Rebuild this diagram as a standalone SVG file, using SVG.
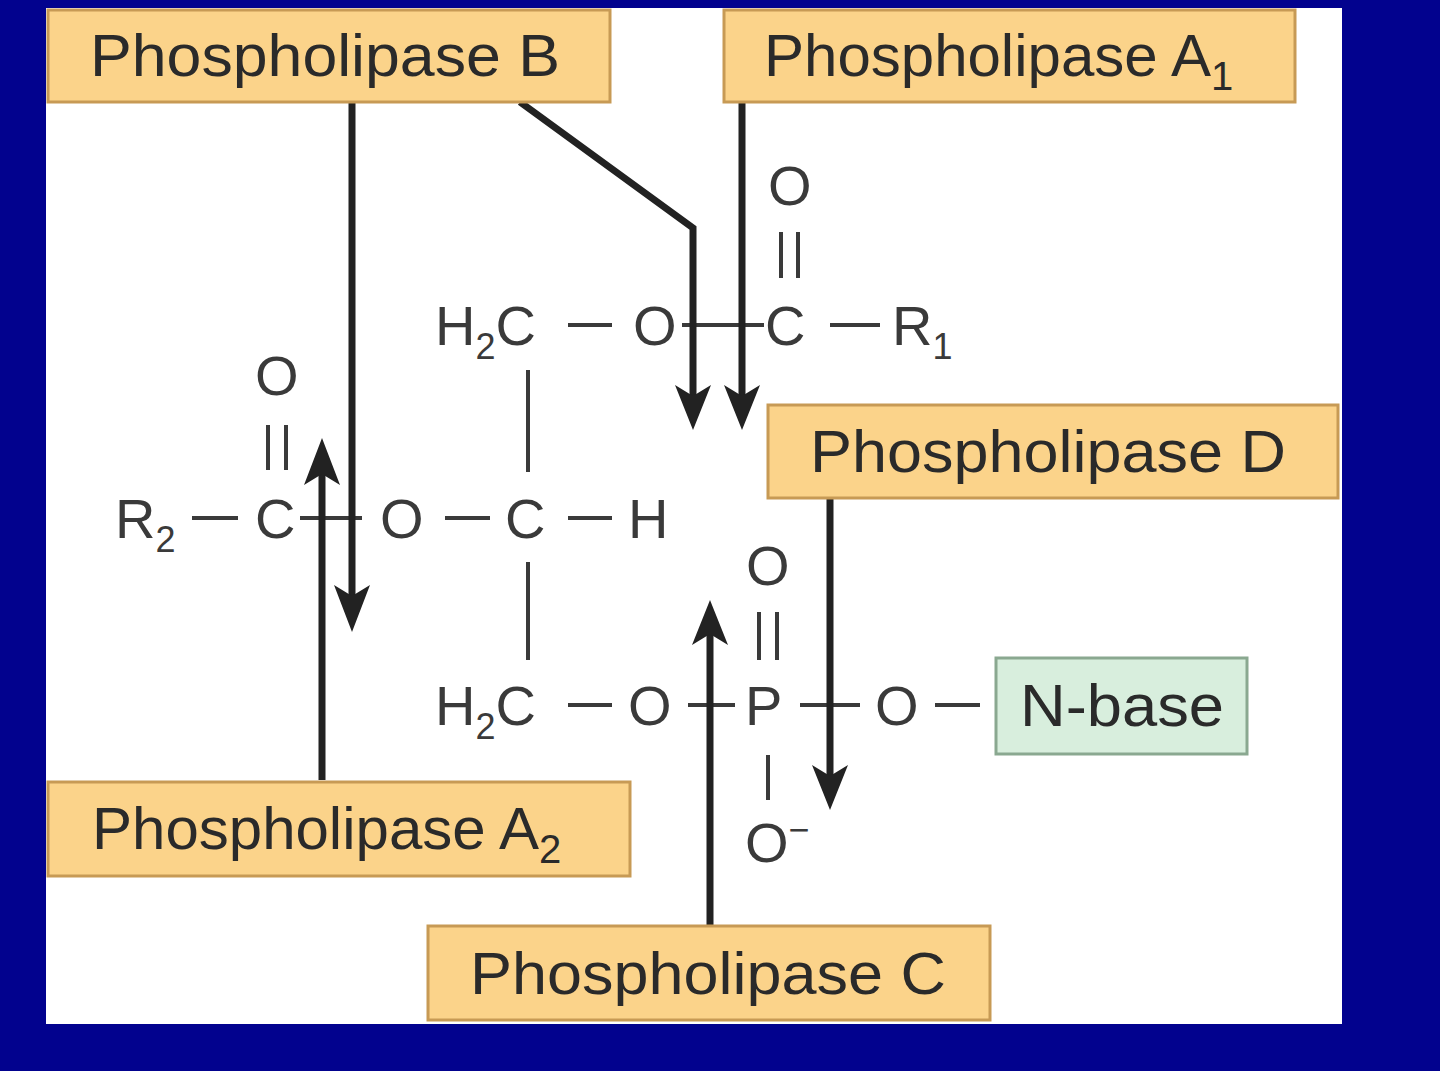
<svg xmlns="http://www.w3.org/2000/svg" width="1440" height="1071" viewBox="0 0 1440 1071">
<defs>
<style>
.box{fill:#FBD38A;stroke:#c79a55;stroke-width:3}
.lbl{font-family:"Liberation Sans",Arial,sans-serif;font-size:60px;fill:#2a2a2a}
.ch{font-family:"Liberation Sans",Arial,sans-serif;font-size:56px;fill:#3a3a3a}
.sub{font-size:36px}
.bond{stroke:#3a3a3a;stroke-width:4}
.arr{stroke:#222;stroke-width:7;fill:none}
.head{fill:#222}
</style>
</defs>
<rect width="1440" height="1071" fill="#02028E"/>
<rect x="46" y="8" width="1296" height="1016" fill="#fff"/>

<g id="chem">
<text class="ch" x="435" y="345">H<tspan class="sub" dy="14">2</tspan><tspan dy="-14">C</tspan></text>
<line class="bond" x1="568" y1="325" x2="612" y2="325"/>
<text class="ch" x="633" y="345">O</text>
<line class="bond" x1="682" y1="325" x2="764" y2="325"/>
<text class="ch" x="765" y="345">C</text>
<line class="bond" x1="830" y1="325" x2="880" y2="325"/>
<text class="ch" x="892" y="345">R<tspan class="sub" dy="14">1</tspan></text>
<text class="ch" x="768" y="205">O</text>
<line class="bond" x1="781" y1="232" x2="781" y2="278"/><line class="bond" x1="798" y1="232" x2="798" y2="278"/>

<text class="ch" x="115" y="538">R<tspan class="sub" dy="14">2</tspan></text>
<line class="bond" x1="192" y1="518" x2="238" y2="518"/>
<text class="ch" x="255" y="538">C</text>
<line class="bond" x1="300" y1="518" x2="362" y2="518"/>
<text class="ch" x="380" y="538">O</text>
<line class="bond" x1="445" y1="518" x2="490" y2="518"/>
<text class="ch" x="505" y="538">C</text>
<line class="bond" x1="568" y1="518" x2="612" y2="518"/>
<text class="ch" x="628" y="538">H</text>
<text class="ch" x="255" y="395">O</text>
<line class="bond" x1="268" y1="425" x2="268" y2="470"/><line class="bond" x1="286" y1="425" x2="286" y2="470"/>
<line class="bond" x1="528" y1="370" x2="528" y2="472"/>
<line class="bond" x1="528" y1="562" x2="528" y2="660"/>

<text class="ch" x="435" y="725">H<tspan class="sub" dy="14">2</tspan><tspan dy="-14">C</tspan></text>
<line class="bond" x1="568" y1="705" x2="612" y2="705"/>
<text class="ch" x="628" y="725">O</text>
<line class="bond" x1="688" y1="705" x2="735" y2="705"/>
<text class="ch" x="745" y="725">P</text>
<line class="bond" x1="800" y1="705" x2="860" y2="705"/>
<text class="ch" x="875" y="725">O</text>
<line class="bond" x1="935" y1="705" x2="980" y2="705"/>
<text class="ch" x="746" y="585">O</text>
<line class="bond" x1="759" y1="612" x2="759" y2="660"/><line class="bond" x1="777" y1="612" x2="777" y2="660"/>
<line class="bond" x1="768" y1="755" x2="768" y2="800"/>
<text class="ch" x="745" y="862">O<tspan class="sub" dy="-20">−</tspan></text>
</g>

<g id="connectors">
<path class="arr" d="M352,102 V600"/><path class="head" d="M334,585 L352,632 L370,585 L352,596 Z"/>
<path class="arr" d="M520,102 L693,228 V400"/><path class="head" d="M675,385 L693,430 L711,385 L693,396 Z"/>
<path class="arr" d="M742,102 V400"/><path class="head" d="M724,385 L742,430 L760,385 L742,396 Z"/>
<path class="arr" d="M322,780 V470"/><path class="head" d="M304,485 L322,438 L340,485 L322,474 Z"/>
<path class="arr" d="M830,498 V780"/><path class="head" d="M812,765 L830,810 L848,765 L830,776 Z"/>
<path class="arr" d="M710,925 V630"/><path class="head" d="M692,645 L710,600 L728,645 L710,634 Z"/>
</g>

<g id="pB"><rect class="box" x="48" y="10" width="562" height="92"/><text class="lbl" x="90" y="76" textLength="470" lengthAdjust="spacingAndGlyphs">Phospholipase B</text></g>
<g id="pA1"><rect class="box" x="724" y="10" width="571" height="92"/><text class="lbl" x="764" y="76">Phospholipase A<tspan font-size="40" dy="14">1</tspan></text></g>
<g id="pD"><rect class="box" x="768" y="405" width="570" height="93"/><text class="lbl" x="810" y="472" textLength="476" lengthAdjust="spacingAndGlyphs">Phospholipase D</text></g>
<g id="pA2"><rect class="box" x="48" y="782" width="582" height="94"/><text class="lbl" x="92" y="849">Phospholipase A<tspan font-size="40" dy="14">2</tspan></text></g>
<g id="pC"><rect class="box" x="428" y="926" width="562" height="94"/><text class="lbl" x="470" y="994" textLength="476" lengthAdjust="spacingAndGlyphs">Phospholipase C</text></g>
<g id="nbase"><rect x="996" y="658" width="251" height="96" fill="#D8EEDD" stroke="#8aa890" stroke-width="3"/><text class="lbl" x="1020" y="726" textLength="204" lengthAdjust="spacingAndGlyphs">N-base</text></g>
</svg>
